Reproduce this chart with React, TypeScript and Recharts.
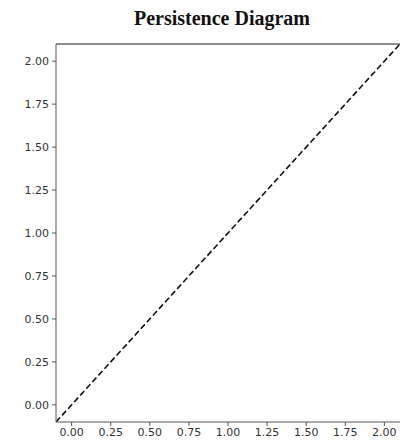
import { ComposedChart, Line, XAxis, YAxis, ReferenceLine } from 'recharts'

const xTicks = [0, 0.25, 0.5, 0.75, 1, 1.25, 1.5, 1.75, 2]
const yTicks = [0, 0.25, 0.5, 0.75, 1, 1.25, 1.5, 1.75, 2]
const axisMin = -0.1
const axisMax = 2.1
// diagonal birth = death
const diagonal = [
  { birth: axisMin, death: axisMin },
  { birth: axisMax, death: axisMax },
]

const tickStyle = { fontSize: 11, fill: '#333', fontFamily: 'DejaVu Sans' }

export default function App() {
  return (
    <div style={{ position: 'absolute', left: 0, top: 0, width: 400, height: 444, background: '#fff' }}>
      <div
        style={{
          position: 'absolute',
          left: 56,
          width: 332,
          top: 7,
          textAlign: 'center',
          fontFamily: '"Liberation Serif", serif',
          fontWeight: 'bold',
          fontSize: 20,
          color: '#111',
        }}
      >
        Persistence Diagram
      </div>
      <ComposedChart width={400} height={444} data={diagonal} margin={{ top: 44, right: 0, bottom: 0, left: 0 }}>
        <XAxis
          dataKey="birth"
          type="number"
          domain={[axisMin, axisMax]}
          ticks={xTicks}
          tickFormatter={(v: number) => v.toFixed(2)}
          height={22}
          tick={tickStyle}
          tickSize={4}
          tickMargin={2}
          stroke="#555"
          allowDataOverflow
        />
        <YAxis
          type="number"
          domain={[axisMin, axisMax]}
          ticks={yTicks}
          tickFormatter={(v: number) => v.toFixed(2)}
          width={56}
          tick={tickStyle}
          tickSize={4}
          tickMargin={3}
          stroke="#555"
          allowDataOverflow
        />
        <ReferenceLine y={axisMax} stroke="#666" strokeWidth={1.5} />
        <Line
          dataKey="death"
          stroke="#111"
          strokeWidth={1.6}
          strokeDasharray="6 3"
          dot={false}
          isAnimationActive={false}
        />
      </ComposedChart>
    </div>
  )
}
